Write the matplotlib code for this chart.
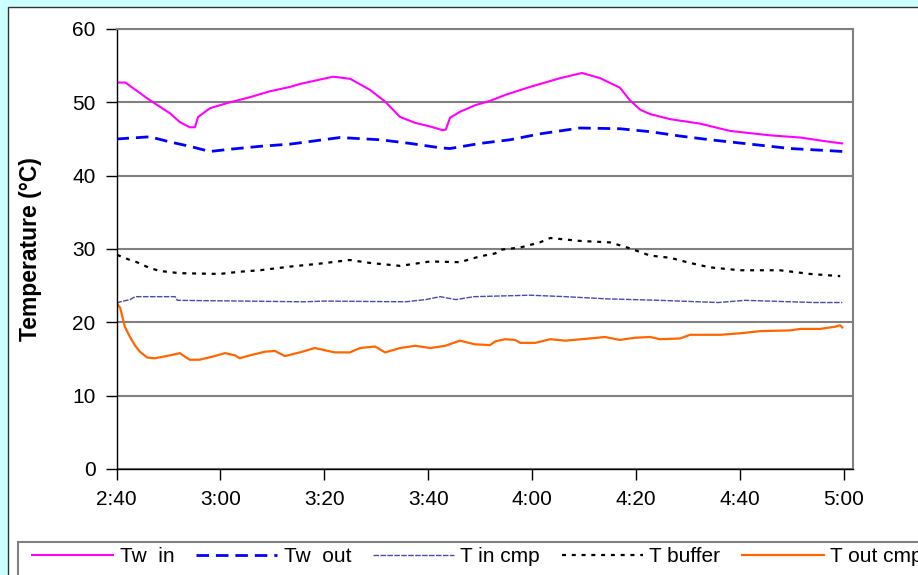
import matplotlib
matplotlib.use("Agg")
import matplotlib.pyplot as plt
from matplotlib import font_manager
from matplotlib.patches import Rectangle

# time in minutes after 2:40
tw_in_t = [0, 1.7, 6.4, 10.3, 12.2, 14.1, 15.1, 15.7, 18.0, 21.8, 25.7, 29.5, 33.4, 35.3,
           41.7, 45.0, 48.8, 51.7, 54.6, 57.5, 60.4, 62.8, 63.4, 64.2, 66.1, 69.0, 71.9,
           74.8, 79.6, 85.4, 89.6, 93.1, 96.9, 98.8, 100.8, 102.7, 106.6, 112.3, 118.1,
           125.8, 131.6, 137.4, 139.7]
tw_in = [52.7, 52.7, 50.3, 48.5, 47.3, 46.6, 46.6, 48.0, 49.2, 50.0, 50.7, 51.5, 52.1, 52.5,
         53.5, 53.2, 51.7, 50.1, 48.0, 47.2, 46.7, 46.2, 46.3, 47.9, 48.7, 49.6, 50.2,
         51.0, 52.1, 53.3, 54.0, 53.3, 52.0, 50.3, 49.0, 48.4, 47.7, 47.1, 46.1,
         45.5, 45.2, 44.6, 44.4]

tw_out_t = [0, 6.4, 10.3, 14.1, 18.0, 21.8, 27.6, 33.4, 43.0, 50.7, 56.5, 62.3, 64.2, 70.0,
            75.8, 81.5, 89.2, 96.9, 102.7, 108.5, 114.2, 122.0, 129.7, 137.4, 139.7]
tw_out = [45.0, 45.3, 44.6, 44.0, 43.3, 43.6, 44.0, 44.3, 45.2, 44.9, 44.4, 43.8, 43.7, 44.4,
          44.9, 45.7, 46.5, 46.4, 46.0, 45.4, 44.9, 44.3, 43.7, 43.4, 43.3]

t_in_cmp_t = [0, 0.7, 2.6, 3.6, 11.3, 11.7, 36.2, 40.0, 55.6, 59.5, 62.3, 65.3, 68.8, 79.6,
              86.4, 94.4, 104.6, 115.8, 121.0, 134.3, 139.7]
t_in_cmp = [22.6, 22.8, 23.1, 23.5, 23.5, 23.0, 22.8, 22.9, 22.8, 23.1, 23.5, 23.1, 23.5, 23.7,
            23.5, 23.2, 23.0, 22.7, 23.0, 22.7, 22.7]

t_buffer_t = [0.1, 2.6, 3.6, 6.4, 8.4, 12.2, 19.9, 23.7, 27.6, 33.4, 39.1, 44.9, 48.8, 54.6,
              60.4, 66.1, 70.0, 72.9, 73.9, 77.7, 81.5, 83.5, 89.2, 95.0, 98.8, 102.7, 106.6,
              110.4, 114.2, 120.0, 127.7, 133.5, 139.3]
t_buffer = [29.2, 28.5, 28.3, 27.4, 27.0, 26.7, 26.6, 26.9, 27.1, 27.6, 28.0, 28.5, 28.1, 27.7,
            28.3, 28.2, 29.0, 29.4, 29.9, 30.2, 30.9, 31.5, 31.1, 30.9, 30.1, 29.1, 28.8,
            28.1, 27.5, 27.1, 27.1, 26.6, 26.3]

t_out_cmp_t = [0, 0.7, 1.6, 2.6, 3.6, 4.5, 5.9, 7.4, 10.3, 12.2, 13.2, 14.1, 16.0, 18.9, 20.9,
               22.8, 23.7, 25.7, 28.6, 30.5, 32.4, 35.3, 38.2, 42.0, 44.9, 46.9, 49.8, 51.7,
               54.6, 57.5, 60.4, 63.3, 66.1, 69.0, 71.9, 72.9, 74.8, 76.7, 77.7, 80.6, 83.5,
               86.4, 91.1, 94.0, 96.9, 99.8, 102.7, 104.6, 108.5, 110.4, 116.2, 120.0, 123.9,
               129.7, 131.6, 135.4, 138.3, 139.3, 139.7]
t_out_cmp = [22.6, 22.0, 19.4, 18.0, 16.8, 16.0, 15.2, 15.1, 15.5, 15.8, 15.3, 14.9, 14.9, 15.4,
             15.8, 15.5, 15.1, 15.5, 16.0, 16.1, 15.4, 15.9, 16.5, 15.9, 15.9, 16.5, 16.7, 15.9,
             16.5, 16.8, 16.5, 16.8, 17.5, 17.0, 16.9, 17.4, 17.7, 17.6, 17.2, 17.2, 17.7,
             17.5, 17.8, 18.0, 17.6, 17.9, 18.0, 17.7, 17.8, 18.3, 18.3, 18.5, 18.8,
             18.9, 19.1, 19.1, 19.4, 19.6, 19.3]

x_ticks = [0, 20, 40, 60, 80, 100, 120, 140]
x_labels = ["2:40", "3:00", "3:20", "3:40", "4:00", "4:20", "4:40", "5:00"]
y_ticks = [0, 10, 20, 30, 40, 50, 60]

names = {f.name for f in font_manager.fontManager.ttflist}
base_font = "Liberation Sans" if "Liberation Sans" in names else "DejaVu Sans"
legend_font = "Liberation Sans Narrow" if "Liberation Sans Narrow" in names else base_font
plt.rcParams["font.family"] = base_font

W, H = 918, 575
fig = plt.figure(figsize=(W / 100, H / 100), dpi=100, facecolor="#ccffff")

# white chart area with dark outline (drawn behind the axes)
fig.patches.append(Rectangle((8 / W, -0.01), 1.0, 1 - 7 / H + 0.01, transform=fig.transFigure,
                             facecolor="white", edgecolor="#333333", linewidth=1.0, zorder=-3))
# legend frame runs off the right edge
fig.patches.append(Rectangle((18 / W, -0.02), 1.0, 1 - 542 / H + 0.02, transform=fig.transFigure,
                             facecolor="white", edgecolor="#808080", linewidth=1.5, zorder=-2))

ax = fig.add_axes([116.5 / W, 1 - 469 / H, (853 - 116.5) / W, (469 - 29) / H])
ax.set_facecolor("white")

ax.plot(tw_in_t, tw_in, color="#ff00ff", lw=1.5, label="Tw  in")
ax.plot(tw_out_t, tw_out, color="#0000ff", lw=2.0, dashes=(4.5, 2.5), label="Tw  out")
ax.plot(t_in_cmp_t, t_in_cmp, color="#4a4aa8", lw=1.0, dashes=(4, 1), label="T in cmp")
ax.plot(t_buffer_t, t_buffer, color="black", lw=1.6, dashes=(1.8, 2.6), label="T buffer")
ax.plot(t_out_cmp_t, t_out_cmp, color="#ff6600", lw=1.6, label="T out cmp")

ax.set_xlim(0, 141.77)
ax.set_ylim(0, 60)
ax.set_xticks(x_ticks)
ax.set_xticklabels(x_labels)
ax.set_yticks(y_ticks)
ax.tick_params(axis="both", direction="out", length=8, width=1, labelsize=15, pad=7,
               colors="black")
ax.yaxis.grid(True, color="#808080", lw=1.5)
ax.set_axisbelow(True)
for side in ("top", "right"):
    ax.spines[side].set_color("#808080")
    ax.spines[side].set_linewidth(1.5)
for side in ("left", "bottom"):
    ax.spines[side].set_color("black")
    ax.spines[side].set_linewidth(1.0)

ax.set_ylabel("Temperature (°C)", fontsize=16.5, fontweight="bold")
ax.yaxis.set_label_coords(-(116.5 - 42) / (853 - 116.5), 0.5)

fig.legend(loc="center left", bbox_to_anchor=(32 / W, 1 - 557 / H), ncol=5, frameon=False,
           borderpad=0, borderaxespad=0, handlelength=3.9, handletextpad=0.3, columnspacing=1.05,
           prop={"family": legend_font, "size": 15})

fig.savefig("out.png", dpi=100, facecolor=fig.get_facecolor())
